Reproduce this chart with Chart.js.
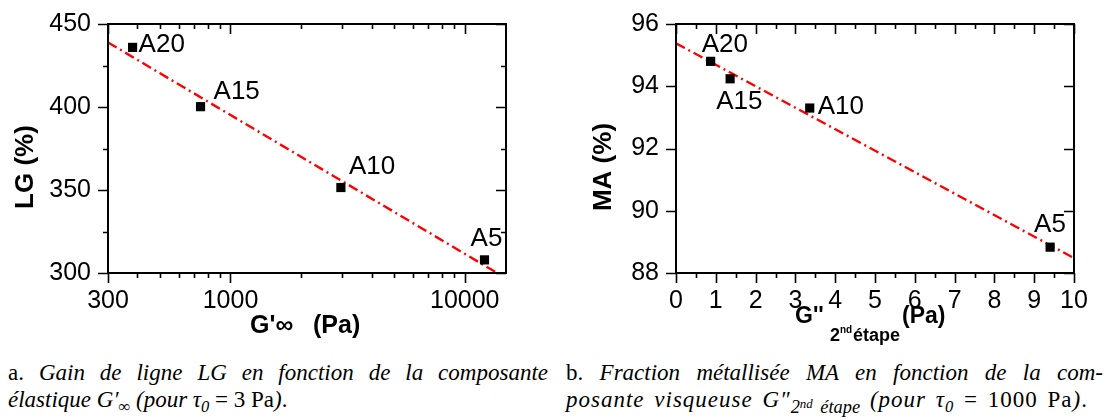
<!DOCTYPE html>
<html>
<head>
<meta charset="utf-8">
<script src="https://cdn.jsdelivr.net/npm/chart.js@4.4.1/dist/chart.umd.min.js"></script>
<style>
   body { margin: 0; width: 1117px; height: 420px; background: #fff; position: relative; overflow: hidden; }
   .panel { position: absolute; top: 0; height: 345px; }
   .cap { position: absolute; top: 359px; font-family: "Liberation Serif", "Times New Roman", serif; font-size: 23px; line-height: 27px; color: #000; }
   .cap .l1 { text-align: justify; text-align-last: justify; }
   .cap .wide { letter-spacing: 1px; word-spacing: 3px; }
   .sb { position: relative; top: 0.3em; font-size: 0.72em; line-height: 0; }
   .sb2 { position: relative; top: 0.35em; font-size: 0.8em; line-height: 0; letter-spacing: 0; }
   .sb2 sup { font-size: 0.7em; position: relative; top: -0.45em; vertical-align: baseline; }
</style>
</head>
<body>
<div class="panel" style="left:0; width:560px"><canvas id="chartGain" width="560" height="345"></canvas></div>
<div class="panel" style="left:560px; width:557px"><canvas id="chartMetal" width="557" height="345"></canvas></div>

<div class="cap" style="left:8px; width:540px">
   <div class="l1">a. <i>Gain de ligne LG en fonction de la composante</i></div>
   <div><i>élastique G′<span class="sb">∞</span> (pour τ<span class="sb">0</span></i> = 3 Pa<i>)</i>.</div>
</div>
<div class="cap" style="left:566px; width:537px">
   <div class="l1">b. <i>Fraction métallisée MA en fonction de la com-</i></div>
   <div class="wide"><i>posante visqueuse G″<span class="sb2">2<sup>nd</sup> étape</span> (pour τ<span class="sb">0</span></i> = 1000 Pa<i>)</i>.</div>
</div>

<script>
// chart a : LG vs G'inf (log axis)
const gainSamples = ["A20", "A15", "A10", "A5"];
const storageModulus = [382, 745, 2960, 12140];
const lineGain = [435.9, 400.2, 351.5, 307.9];
const gainFitX = [300, 13750];
const gainFitY = [438.9, 300];
const gainXTicks = [300, 400, 500, 600, 700, 800, 900, 1000, 2000, 3000, 4000, 5000, 6000, 7000, 8000, 9000, 10000];
const gainXLabels = [300, 1000, 10000];

// chart b : MA vs G'' 2nd step
const metalSamples = ["A20", "A15", "A10", "A5"];
const lossModulus = [0.87, 1.36, 3.36, 9.40];
const metalFraction = [94.80, 94.24, 93.30, 88.83];
const metalFitX = [0, 10];
const metalFitY = [95.38, 88.48];

const SANS = "'Liberation Sans', Arial, sans-serif";

function toPoints(xs, ys)
{
   return xs.map(function(x, i) { return { x: x, y: ys[i] }; });
}

// frame + ticks: outward on bottom/left, inward on top/right
const frameTicks =
{
   id: "frameTicks",
   afterDraw(chart)
   {
      const ctx = chart.ctx;
      const area = chart.chartArea;
      const xs = chart.scales.x;
      const ys = chart.scales.y;
      ctx.save();
      ctx.strokeStyle = "#000";
      ctx.lineWidth = 1.6;
      ctx.beginPath();
      xs.ticks.forEach(function(t)
      {
         const px = Math.round(xs.getPixelForValue(t.value)) + 0.5;
         const len = t.label !== "" ? 10 : 5;
         ctx.moveTo(px, area.bottom); ctx.lineTo(px, area.bottom + len);
         ctx.moveTo(px, area.top); ctx.lineTo(px, area.top + len);
      });
      ys.ticks.forEach(function(t)
      {
         const py = Math.round(ys.getPixelForValue(t.value)) + 0.5;
         const len = t.label !== "" ? 10 : 5;
         ctx.moveTo(area.left, py); ctx.lineTo(area.left - len, py);
         ctx.moveTo(area.right, py); ctx.lineTo(area.right - len, py);
      });
      ctx.stroke();
      ctx.lineWidth = 2;
      ctx.strokeRect(area.left, area.top, area.right - area.left, area.bottom - area.top);
      ctx.restore();
   }
};

const pointLabels =
{
   id: "pointLabels",
   afterDatasetsDraw(chart, args, opts)
   {
      const ctx = chart.ctx;
      const meta = chart.getDatasetMeta(0);
      ctx.save();
      ctx.fillStyle = "#000";
      ctx.font = "26px " + SANS;
      ctx.textBaseline = "middle";
      meta.data.forEach(function(el, i)
      {
         const off = opts.offsets[i];
         ctx.textAlign = off[2];
         ctx.fillText(opts.names[i], el.x + off[0], el.y + off[1]);
      });
      ctx.restore();
   }
};

const axisTitles =
{
   id: "axisTitles",
   afterDraw(chart, args, opts)
   {
      const ctx = chart.ctx;
      ctx.save();
      ctx.fillStyle = "#000";
      opts.items.forEach(function(it)
      {
         ctx.font = "bold " + it.size + "px " + SANS;
         ctx.save();
         ctx.translate(it.x, it.y);
         if (it.rotate)
         {
            ctx.rotate(-Math.PI / 2);
            ctx.textAlign = "center";
            ctx.textBaseline = "middle";
         }
         else
         {
            ctx.textAlign = "left";
            ctx.textBaseline = "alphabetic";
         }
         ctx.fillText(it.text, 0, 0);
         ctx.restore();
      });
      ctx.restore();
   }
};

function buildOptions(xScale, yScale, padRight, yWidth, labels, titles)
{
   return {
      responsive: false,
      animation: false,
      devicePixelRatio: 1,
      layout: { padding: { left: 0, right: padRight, top: 24, bottom: 0 } },
      scales:
      {
         x: Object.assign(
         {
            grid: { display: false, drawTicks: false },
            border: { display: false },
            afterFit: function(scale)
            {
               scale.height = 72;
               scale.paddingLeft = 0;
               scale.paddingRight = 0;
            },
         }, xScale),
         y: Object.assign(
         {
            grid: { display: false, drawTicks: false },
            border: { display: false },
            afterFit: function(scale)
            {
               scale.width = yWidth;
               scale.paddingTop = 0;
               scale.paddingBottom = 0;
            },
         }, yScale),
      },
      plugins:
      {
         legend: { display: false },
         tooltip: { enabled: false },
         pointLabels: labels,
         axisTitles: titles,
      },
   };
}

function buildDatasets(xs, ys, fitX, fitY)
{
   return [
      {
         data: toPoints(xs, ys),
         pointStyle: "rect",
         pointRadius: 6.5,
         pointBackgroundColor: "#000",
         pointBorderWidth: 0,
         showLine: false,
      },
      {
         data: toPoints(fitX, fitY),
         showLine: true,
         borderColor: "#ff0000",
         borderWidth: 2.4,
         borderDash: [10, 4, 2, 4],
         pointRadius: 0,
      },
   ];
}

new Chart(document.getElementById("chartGain"),
{
   type: "scatter",
   data: { datasets: buildDatasets(storageModulus, lineGain, gainFitX, gainFitY) },
   options: buildOptions(
      {
         type: "logarithmic",
         min: 300,
         max: 15000,
         bounds: "data",
         afterBuildTicks: function(scale) { scale.ticks = gainXTicks.map(function(v) { return { value: v }; }); },
         ticks:
         {
            autoSkip: false, maxRotation: 0, padding: 13, color: "#000",
            font: { family: SANS, size: 25 },
            callback: function(v) { return gainXLabels.indexOf(v) >= 0 ? String(v) : ""; },
         },
      },
      {
         min: 300,
         max: 450,
         ticks:
         {
            stepSize: 25, padding: 17, color: "#000",
            font: { family: SANS, size: 25 },
            callback: function(v) { return v % 50 === 0 ? String(v) : ""; },
         },
      },
      54, 108,
      {
         names: gainSamples,
         offsets: [[6, -3, "left"], [13, -15, "left"], [8, -21, "left"], [2, -21, "center"]],
      },
      {
         items:
         [
            { text: "LG (%)", x: 26, y: 167, size: 26, rotate: true },
            { text: "G'\u221E", x: 250, y: 333, size: 25 },
            { text: "(Pa)", x: 313, y: 333, size: 25 },
         ],
      }),
   plugins: [frameTicks, pointLabels, axisTitles],
});

new Chart(document.getElementById("chartMetal"),
{
   type: "scatter",
   data: { datasets: buildDatasets(lossModulus, metalFraction, metalFitX, metalFitY) },
   options: buildOptions(
      {
         min: 0,
         max: 10,
         ticks:
         {
            stepSize: 0.5, autoSkip: false, maxRotation: 0, padding: 13, color: "#000",
            font: { family: SANS, size: 25 },
            callback: function(v) { return Number.isInteger(v) ? String(v) : ""; },
         },
      },
      {
         min: 88,
         max: 96,
         ticks:
         {
            stepSize: 1, padding: 17, color: "#000",
            font: { family: SANS, size: 25 },
            callback: function(v) { return v % 2 === 0 ? String(v) : ""; },
         },
      },
      43, 116,
      {
         names: metalSamples,
         offsets: [[-9, -17, "left"], [-14, 23, "left"], [8, -1, "left"], [-16, -22, "left"]],
      },
      {
         items:
         [
            { text: "MA (%)", x: 44, y: 167, size: 26, rotate: true },
            { text: "G''", x: 235, y: 323, size: 23 },
            { text: "2", x: 270, y: 341, size: 18 },
            { text: "nd", x: 280, y: 333, size: 10 },
            { text: "étape", x: 293, y: 341, size: 18 },
            { text: "(Pa)", x: 342, y: 323, size: 23 },
         ],
      }),
   plugins: [frameTicks, pointLabels, axisTitles],
});
</script>
</body>
</html>
